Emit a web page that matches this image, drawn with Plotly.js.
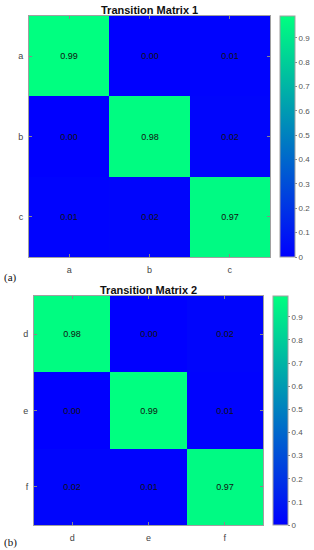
<!DOCTYPE html>
<html>
<head>
<meta charset="utf-8">
<script src="https://cdn.plot.ly/plotly-3.0.1.min.js"></script>
<style>html,body{margin:0;padding:0;background:#fff;}#chart{width:314px;height:550px;}</style>
</head>
<body>
<div id="chart"></div>
<script>
// Data
var labels1 = ['a', 'b', 'c'];
var labels2 = ['d', 'e', 'f'];
var matrix1 = [
  [0.99, 0.00, 0.01],
  [0.00, 0.98, 0.02],
  [0.01, 0.02, 0.97]
];
var matrix2 = [
  [0.98, 0.00, 0.02],
  [0.00, 0.99, 0.01],
  [0.02, 0.01, 0.97]
];
var title1 = 'Transition Matrix 1';
var title2 = 'Transition Matrix 2';
var panelLabels = ['(a)', '(b)'];
var cbTicks = [0, 0.1, 0.2, 0.3, 0.4, 0.5, 0.6, 0.7, 0.8, 0.9];

var W = 314, H = 550;
function px(x) { return x / W; }
function py(y) { return 1 - y / H; }

var winter = [[0, 'rgb(0,0,255)'], [1, 'rgb(0,255,128)']];
var edge = '#a0a0a0';
var tickFont = {family: 'Arial, Liberation Sans, sans-serif', size: 9, color: '#444'};

function hm(z, lab, xa, ya, cbx, cby0, cby1) {
  var zmax = Math.max.apply(null, z.map(function (r) { return Math.max.apply(null, r); }));
  return {
    type: 'heatmap', z: z, x: lab, y: lab, xaxis: xa, yaxis: ya,
    colorscale: winter, zmin: 0, zmax: zmax,
    texttemplate: '%{z:.2f}',
    textfont: {family: 'Arial, Liberation Sans, sans-serif', size: 9, color: '#111'},
    hoverinfo: 'skip',
    colorbar: {
      x: px(cbx), xanchor: 'left', xref: 'paper',
      y: py((cby0 + cby1) / 2), yanchor: 'middle',
      len: (cby1 - cby0) / H, lenmode: 'fraction',
      thickness: 15, thicknessmode: 'pixels',
      outlinewidth: 1, outlinecolor: edge,
      tickvals: cbTicks, ticktext: cbTicks.map(String),
      ticks: 'outside', ticklen: 2, tickcolor: '#888',
      tickfont: {family: 'Arial, Liberation Sans, sans-serif', size: 8, color: '#555'},
      xpad: 0, ypad: 0
    }
  };
}

var traces = [
  hm(matrix1, labels1, 'x', 'y', 280, 16, 257),
  hm(matrix2, labels2, 'x2', 'y2', 273, 296, 525)
];

function axis(dom, anchor, isY) {
  var a = {
    domain: dom, anchor: anchor, type: 'category',
    showline: true, linecolor: edge, linewidth: 1, mirror: 'ticks',
    ticks: 'inside', ticklen: 3, tickcolor: '#888',
    tickfont: tickFont, showgrid: false, zeroline: false,
    fixedrange: true
  };
  if (isY) { a.autorange = 'reversed'; a.ticklabelstandoff = 3; }
  else { a.ticklabelstandoff = 4; }
  return a;
}

var layout = {
  width: W, height: H,
  margin: {l: 0, r: 0, t: 0, b: 0},
  paper_bgcolor: '#fff', plot_bgcolor: '#fff',
  showlegend: false,
  xaxis: axis([px(29), px(270)], 'y', false),
  yaxis: axis([py(257), py(16)], 'x', true),
  xaxis2: axis([px(34), px(263)], 'y2', false),
  yaxis2: axis([py(525), py(296)], 'x2', true),
  annotations: [
    {text: '<b>' + title1 + '</b>', xref: 'paper', yref: 'paper', x: px(149.5), y: py(9.5),
     xanchor: 'center', yanchor: 'middle', showarrow: false,
     font: {family: 'Arial, Liberation Sans, sans-serif', size: 11, color: '#111'}},
    {text: '<b>' + title2 + '</b>', xref: 'paper', yref: 'paper', x: px(148.5), y: py(289.5),
     xanchor: 'center', yanchor: 'middle', showarrow: false,
     font: {family: 'Arial, Liberation Sans, sans-serif', size: 11, color: '#111'}},
    {text: panelLabels[0], xref: 'paper', yref: 'paper', x: px(2), y: py(277),
     xanchor: 'left', yanchor: 'middle', showarrow: false,
     font: {family: 'Liberation Serif, DejaVu Serif, serif', size: 11, color: '#111'}},
    {text: panelLabels[1], xref: 'paper', yref: 'paper', x: px(2), y: py(542),
     xanchor: 'left', yanchor: 'middle', showarrow: false,
     font: {family: 'Liberation Serif, DejaVu Serif, serif', size: 11, color: '#111'}}
  ]
};

Plotly.newPlot('chart', traces, layout, {displayModeBar: false, staticPlot: true});
</script>
</body>
</html>
